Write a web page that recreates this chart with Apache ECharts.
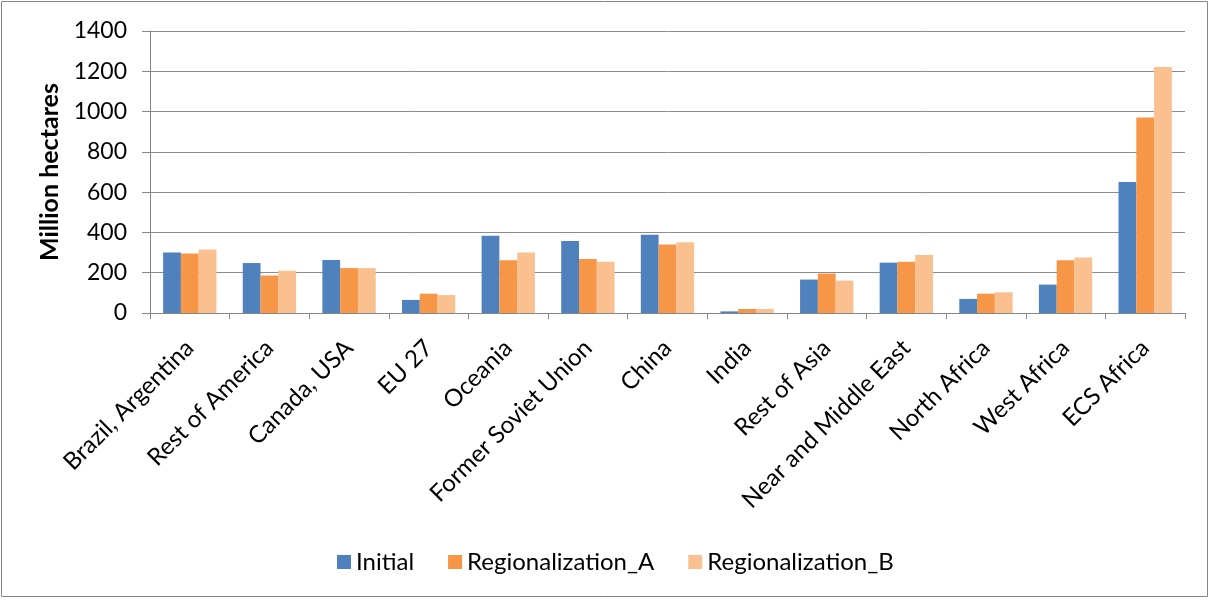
<!DOCTYPE html>
<html>
<head>
<meta charset="utf-8">
<script src="https://cdn.jsdelivr.net/npm/echarts@6/dist/echarts.min.js"></script>
<style>html,body{margin:0;padding:0;background:#fff}#c{width:1212px;height:601px}</style>
</head>
<body>
<div id="c"></div>
<script>
var categories = ["Brazil, Argentina","Rest of America","Canada, USA","EU 27","Oceania","Former Soviet Union","China","India","Rest of Asia","Near and Middle East","North Africa","West Africa","ECS Africa"];
var initial = [300,248,263,65,384,358,389,8,166,250,70,141,650];
var regionalizationA = [295,186,223,96,262,268,340,20,196,255,96,262,970];
var regionalizationB = [315,210,223,89,300,255,351,20,161,288,103,275,1221];
var yTicks = {min:0, max:1400, interval:200};

var font = "Lato, 'Open Sans', sans-serif";
var chart = echarts.init(document.getElementById('c'), null, {renderer:'canvas'});
chart.setOption({
  animation:false,
  backgroundColor:'#fff',
  graphic:[{type:'rect', shape:{x:1.5,y:1.5,width:1206,height:595}, style:{fill:'none', stroke:'#868686', lineWidth:1}}],
  grid:{left:150, right:27, top:31, bottom:288, containLabel:false},
  legend:{
    data:['Initial','Regionalization_A','Regionalization_B'],
    left:332, top:545, itemWidth:14, itemHeight:14, itemGap:34, icon:'rect',
    textStyle:{fontFamily:font, fontSize:24, color:'#000'}
  },
  xAxis:{
    type:'category', data:categories,
    axisLine:{lineStyle:{color:'#868686'}},
    axisTick:{show:true, length:6, lineStyle:{color:'#868686'}},
    axisLabel:{rotate:45, fontFamily:font, fontSize:24, color:'#000', margin:31, interval:0}
  },
  yAxis:{
    type:'value', min:yTicks.min, max:yTicks.max, interval:yTicks.interval,
    name:'Million hectares', nameLocation:'middle', nameGap:88,
    nameTextStyle:{fontFamily:font, fontSize:25, fontWeight:'bold', color:'#000'},
    axisLine:{show:true, lineStyle:{color:'#868686'}},
    axisTick:{show:true, length:8, lineStyle:{color:'#868686'}},
    axisLabel:{fontFamily:font, fontSize:23, color:'#000', margin:23, formatter:function(v){return String(v);}},
    splitLine:{lineStyle:{color:'#8c8c8c'}}
  },
  series:[
    {name:'Initial', type:'bar', data:initial, barGap:'0%', barCategoryGap:'33%', itemStyle:{color:'#4f81bd'}},
    {name:'Regionalization_A', type:'bar', data:regionalizationA, barGap:'0%', barCategoryGap:'33%', itemStyle:{color:'#f79646'}},
    {name:'Regionalization_B', type:'bar', data:regionalizationB, barGap:'0%', barCategoryGap:'33%', itemStyle:{color:'#fac090'}}
  ]
});
</script>
</body>
</html>
